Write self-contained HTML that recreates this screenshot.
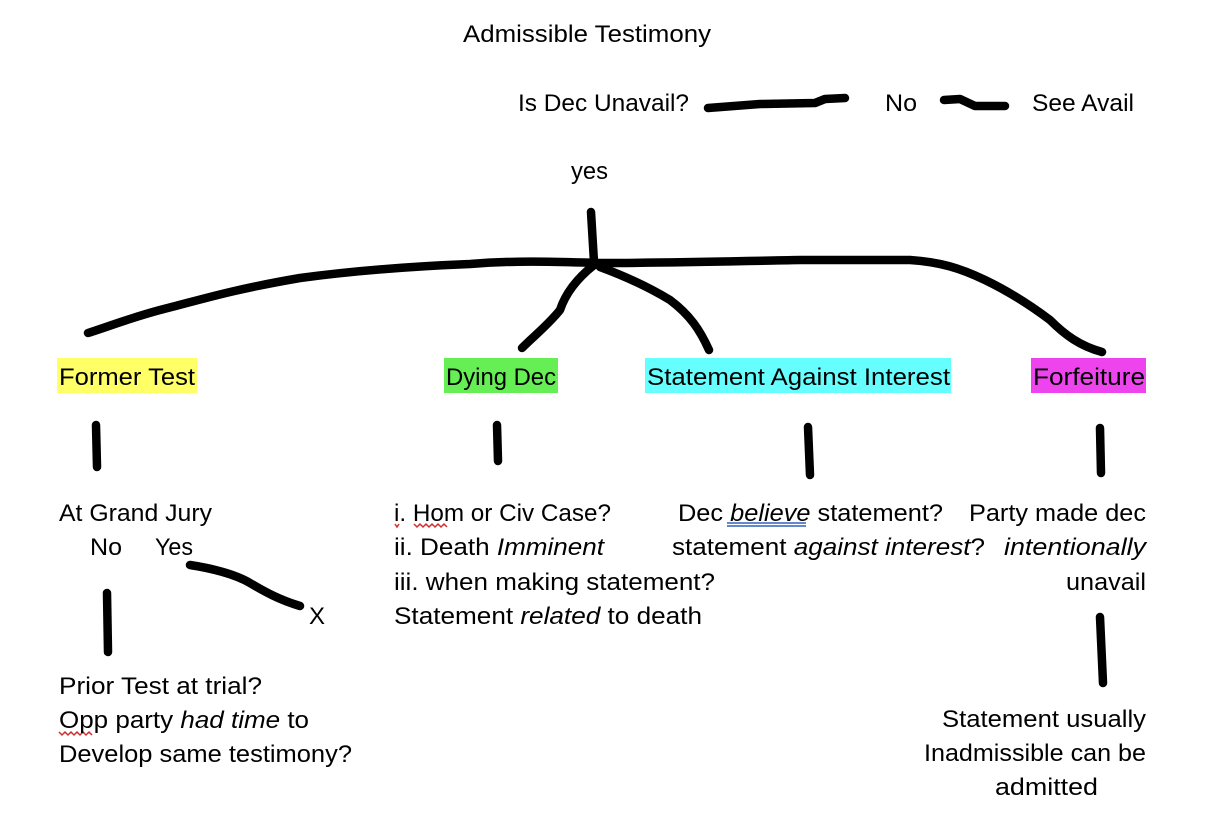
<!DOCTYPE html>
<html><head><meta charset="utf-8"><style>
html,body{margin:0;padding:0;background:#fff;}
svg{display:block}
text{font-family:"Liberation Sans",sans-serif;font-size:24px;fill:#000;}
</style></head><body>
<svg width="1228" height="822" viewBox="0 0 1228 822" xmlns="http://www.w3.org/2000/svg">
<rect x="57" y="358" width="140" height="35" fill="#ffff66"/>
<rect x="444" y="358" width="114" height="35" fill="#66ee55"/>
<rect x="645" y="358" width="306" height="35" fill="#66ffff"/>
<rect x="1031" y="358" width="115" height="35" fill="#ee44ee"/>
<g fill="none" stroke="#000" stroke-width="8.5" stroke-linecap="round" stroke-linejoin="round">
<path d="M708,108 L760,104 L815,103 L825,99 L845,98"/>
<path d="M944,100 L960,99 L975,106 L1005,106"/>
<path d="M591,212 L594,262"/>
<path d="M88,333 C110,326 130,318 160,310 C200,300 230,290 300,278 C360,270 420,266 470,264 C520,260 560,262 600,263 C680,263 740,261 800,260 L910,260 C940,262 960,268 985,280 C1010,292 1030,305 1050,320 C1065,335 1080,346 1102,352"/>
<path d="M594,265 C575,280 565,295 560,310 C548,325 535,335 522,348"/>
<path d="M600,267 C630,278 650,288 670,300 C690,315 700,330 709,350"/>
<path d="M96,425 L97,467"/>
<path d="M497,425 L498,461"/>
<path d="M808,427 L810,475"/>
<path d="M1100,428 L1101,473"/>
<path d="M190,565 C210,568 235,574 250,583 C265,592 280,600 300,606"/>
<path d="M107,593 L108,652"/>
<path d="M1100,617 L1103,683"/>
</g>
<g fill="none" stroke="#d03030" stroke-width="1.5">
<path d="M395,524 l2,3 l2,-3"/>
<path d="M414,524 l3,3 l3,-3 l3,3 l3,-3 l3,3 l3,-3 l3,3 l3,-3 l3,3 l3,-3 l3,3"/>
<path d="M59,732 l3,3 l3,-3 l3,3 l3,-3 l3,3 l3,-3 l3,3 l3,-3 l3,3 l3,-3 l3,3"/>
</g>
<g stroke="#3060c0" stroke-width="1.5">
<line x1="727" y1="523" x2="806" y2="523"/><line x1="727" y1="526" x2="806" y2="526"/>
</g>
<text x="463" y="42" textLength="248" lengthAdjust="spacingAndGlyphs">Admissible Testimony</text>
<text x="518" y="111" textLength="171" lengthAdjust="spacingAndGlyphs">Is Dec Unavail?</text>
<text x="885" y="111" textLength="32" lengthAdjust="spacingAndGlyphs">No</text>
<text x="1032" y="111" textLength="102" lengthAdjust="spacingAndGlyphs">See Avail</text>
<text x="571" y="179" textLength="37" lengthAdjust="spacingAndGlyphs">yes</text>
<text x="59" y="385" textLength="136" lengthAdjust="spacingAndGlyphs">Former Test</text>
<text x="446" y="385" textLength="110" lengthAdjust="spacingAndGlyphs">Dying Dec</text>
<text x="647" y="385" textLength="303" lengthAdjust="spacingAndGlyphs">Statement Against Interest</text>
<text x="1033" y="385" textLength="112" lengthAdjust="spacingAndGlyphs">Forfeiture</text>
<text x="59" y="521" textLength="153" lengthAdjust="spacingAndGlyphs">At Grand Jury</text>
<text x="90" y="555" textLength="32" lengthAdjust="spacingAndGlyphs">No</text>
<text x="155" y="555" textLength="38" lengthAdjust="spacingAndGlyphs">Yes</text>
<text x="309" y="624" textLength="16" lengthAdjust="spacingAndGlyphs">X</text>
<text x="59" y="694" textLength="203" lengthAdjust="spacingAndGlyphs">Prior Test at trial?</text>
<text x="59" y="728" textLength="250" lengthAdjust="spacingAndGlyphs">Opp party <tspan font-style="italic">had time</tspan> to</text>
<text x="59" y="762" textLength="293" lengthAdjust="spacingAndGlyphs">Develop same testimony?</text>
<text x="394" y="521" textLength="217" lengthAdjust="spacingAndGlyphs">i. Hom or Civ Case?</text>
<text x="394" y="555" textLength="210" lengthAdjust="spacingAndGlyphs">ii. Death <tspan font-style="italic">Imminent</tspan></text>
<text x="394" y="590" textLength="321" lengthAdjust="spacingAndGlyphs">iii. when making statement?</text>
<text x="394" y="624" textLength="308" lengthAdjust="spacingAndGlyphs">Statement <tspan font-style="italic">related</tspan> to death</text>
<text x="678" y="521" textLength="265" lengthAdjust="spacingAndGlyphs">Dec <tspan font-style="italic">believe</tspan> statement?</text>
<text x="672" y="555" textLength="313" lengthAdjust="spacingAndGlyphs">statement <tspan font-style="italic">against interest</tspan>?</text>
<text x="969" y="521" textLength="177" lengthAdjust="spacingAndGlyphs">Party made dec</text>
<text x="1004" y="555" textLength="142" lengthAdjust="spacingAndGlyphs" font-style="italic">intentionally</text>
<text x="1066" y="590" textLength="80" lengthAdjust="spacingAndGlyphs">unavail</text>
<text x="942" y="727" textLength="204" lengthAdjust="spacingAndGlyphs">Statement usually</text>
<text x="924" y="761" textLength="222" lengthAdjust="spacingAndGlyphs">Inadmissible can be</text>
<text x="995" y="795" textLength="103" lengthAdjust="spacingAndGlyphs">admitted</text>
</svg>
</body></html>
